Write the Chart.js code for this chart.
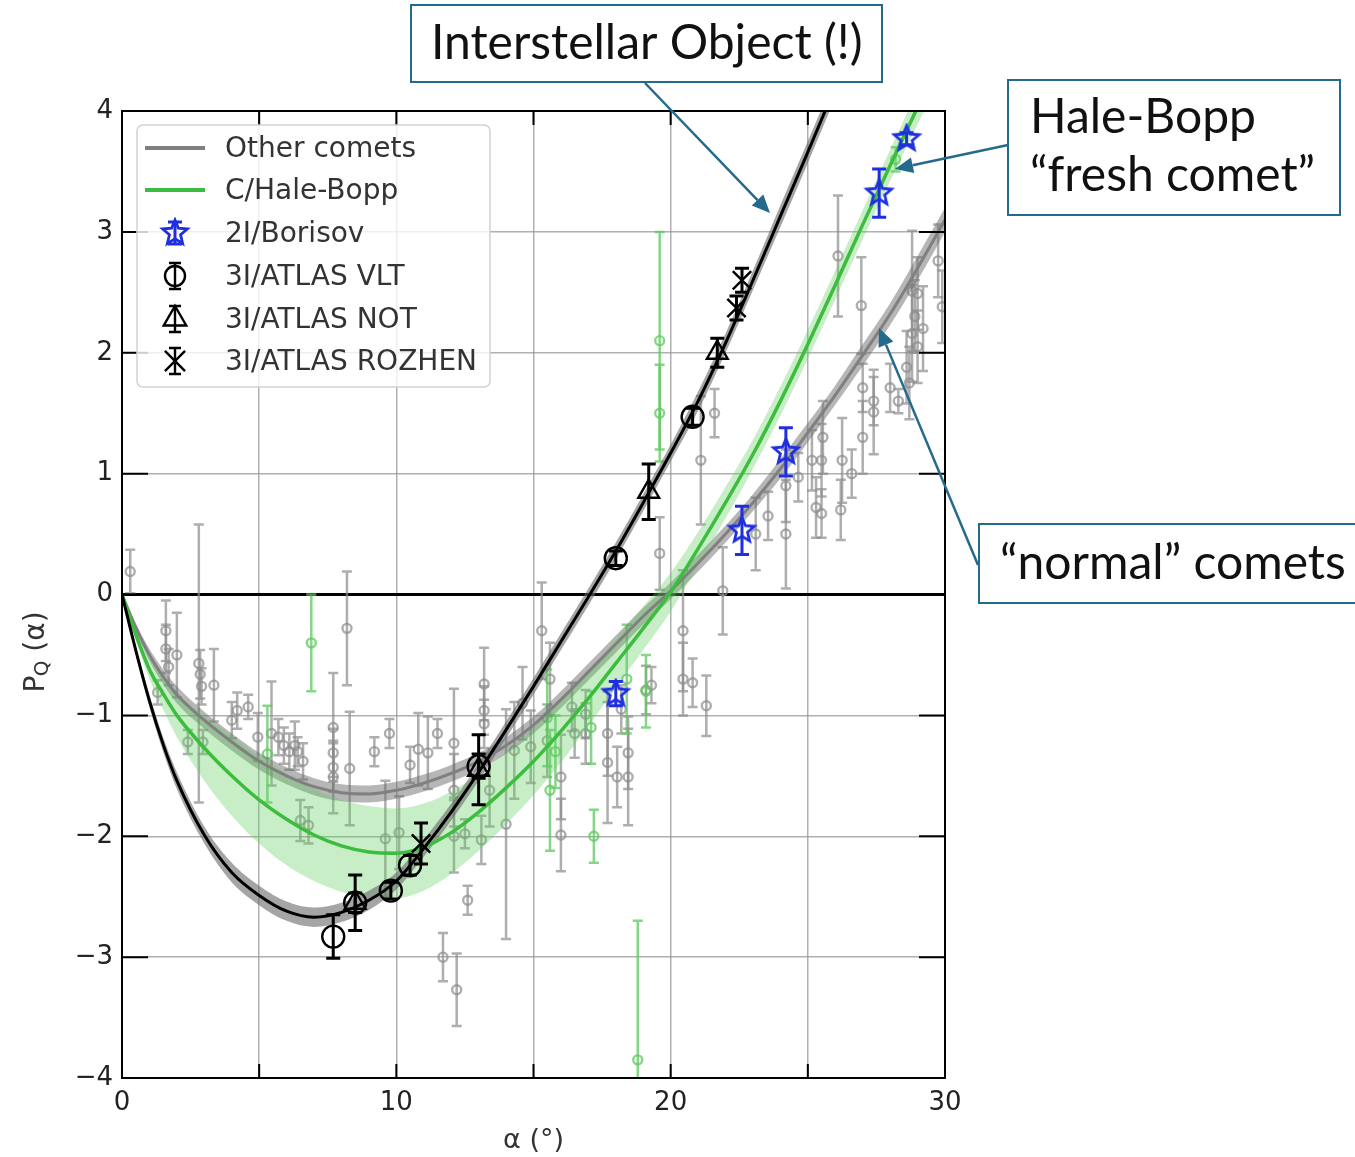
<!DOCTYPE html>
<html lang="en">
<head>
<meta charset="UTF-8" />
<title>Polarization phase curves</title>
<script src="https://cdn.jsdelivr.net/npm/chart.js@4.4.1/dist/chart.umd.min.js"></script>
<style>
	body { margin: 0; background: #fff; }
	#wrap { width: 1355px; height: 1157px; position: relative; }
</style>
</head>
<body>
<div id="wrap"><canvas id="myChart"></canvas></div>
<script>
// phase angle samples of the fitted curves
var fitAlpha = [0, 0.5, 1, 1.5, 2, 3, 4, 5, 6, 7, 8, 9, 10, 11, 12, 13, 14, 15, 16, 17, 18, 19, 20, 21, 22, 23, 24, 25, 26, 27, 28, 29, 30];
var otherFit = [0, -0.27, -0.5, -0.68, -0.83, -1.04, -1.22, -1.38, -1.5, -1.59, -1.64, -1.65, -1.62, -1.56, -1.48, -1.38, -1.25, -1.08, -0.87, -0.64, -0.41, -0.18, 0.03, 0.26, 0.5, 0.76, 1.04, 1.34, 1.65, 1.98, 2.32, 2.7, 3.1];
var otherBand = [0, 0.03, 0.05, 0.06, 0.07, 0.07, 0.07, 0.07, 0.07, 0.07, 0.07, 0.07, 0.07, 0.07, 0.07, 0.07, 0.07, 0.07, 0.07, 0.07, 0.07, 0.07, 0.07, 0.07, 0.07, 0.07, 0.08, 0.08, 0.08, 0.09, 0.09, 0.1, 0.1];
var hbFit = [0, -0.33, -0.62, -0.82, -1.0, -1.27, -1.5, -1.7, -1.86, -1.99, -2.08, -2.13, -2.14, -2.09, -1.97, -1.8, -1.6, -1.38, -1.13, -0.86, -0.57, -0.28, 0.02, 0.38, 0.76, 1.16, 1.6, 2.07, 2.56, 3.06, 3.55, 4.03, 4.5];
var hbBand = [0, 0.04, 0.08, 0.13, 0.18, 0.27, 0.33, 0.36, 0.38, 0.38, 0.38, 0.38, 0.37, 0.36, 0.34, 0.32, 0.3, 0.28, 0.26, 0.23, 0.2, 0.18, 0.16, 0.14, 0.13, 0.12, 0.12, 0.12, 0.12, 0.12, 0.13, 0.14, 0.15];
var atlasFit = [0, -0.46, -0.88, -1.24, -1.54, -1.99, -2.3, -2.49, -2.62, -2.67, -2.63, -2.53, -2.37, -2.1, -1.8, -1.47, -1.12, -0.76, -0.39, -0.02, 0.36, 0.76, 1.17, 1.6, 2.08, 2.6, 3.13, 3.66, 4.2];
var atlasBand = [0, 0.03, 0.05, 0.06, 0.07, 0.07, 0.08, 0.08, 0.08, 0.08, 0.08, 0.08, 0.07, 0.07, 0.07, 0.07, 0.07, 0.07, 0.07, 0.07, 0.07, 0.07, 0.07, 0.08, 0.08, 0.08, 0.09, 0.09, 0.09];

// measurements: [alpha, P, error]
var otherPts = [
	[0.3, 0.19, 0.18], [1.6, -0.3, 0.25], [1.6, -0.45, 0.2], [1.7, -0.6, 0.15], [2.0, -0.5, 0.35],
	[1.3, -0.81, 0.1], [2.8, -0.57, 1.15], [2.85, -0.66, 0.2], [2.9, -0.76, 0.15], [3.35, -0.75, 0.3],
	[2.4, -1.22, 0.1], [2.95, -1.22, 0.1], [4.0, -1.04, 0.15], [4.2, -0.96, 0.15], [4.6, -0.93, 0.1],
	[4.95, -1.18, 0.2], [5.45, -1.15, 0.43], [5.7, -1.18, 0.15], [5.9, -1.25, 0.15], [6.1, -1.3, 0.15],
	[6.3, -1.25, 0.2], [6.4, -1.3, 0.12], [6.6, -1.38, 0.15], [6.5, -1.87, 0.17], [6.8, -1.91, 0.15],
	[7.7, -1.1, 0.45], [7.7, -1.31, 0.2], [7.7, -1.43, 0.2], [7.7, -1.51, 0.3], [8.2, -0.28, 0.47],
	[8.3, -1.44, 0.47], [9.2, -1.3, 0.12], [9.75, -1.15, 0.12], [9.6, -2.02, 0.48], [10.1, -1.97, 0.3],
	[10.5, -1.41, 0.15], [10.8, -1.28, 0.3], [11.15, -1.31, 0.3], [11.5, -1.15, 0.12], [12.1, -1.23, 0.45],
	[12.1, -1.62, 0.3], [12.1, -2.0, 0.3], [12.5, -1.98, 0.12], [12.6, -2.53, 0.12], [11.7, -3.0, 0.2],
	[12.2, -3.27, 0.3], [13.2, -0.74, 0.3], [13.2, -0.96, 0.2], [13.2, -1.07, 0.2], [13.4, -1.62, 0.3],
	[13.1, -2.03, 0.2], [14.0, -1.9, 0.95], [14.3, -1.29, 0.4], [14.6, -0.9, 0.3], [14.9, -1.26, 0.3],
	[15.3, -0.3, 0.4], [15.5, -1.21, 0.3], [15.6, -0.7, 0.3], [16.0, -1.51, 0.35], [16.0, -1.99, 0.3],
	[16.4, -0.93, 0.2], [16.5, -1.15, 0.2], [16.9, -0.99, 0.2], [16.9, -1.15, 0.25], [17.7, -1.15, 0.35],
	[17.7, -1.39, 0.5], [18.05, -1.51, 0.25], [18.45, -1.31, 0.3], [18.45, -1.51, 0.4], [18.2, -0.95, 0.2],
	[19.1, -0.79, 0.2], [19.3, -0.75, 0.15], [19.6, 0.34, 0.3], [20.45, -0.3, 0.5], [20.45, -0.7, 0.3],
	[20.8, -0.73, 0.2], [21.3, -0.92, 0.25], [21.9, 0.03, 0.36], [21.1, 1.11, 0.53], [21.6, 1.5, 0.2],
	[23.1, 0.5, 0.3], [23.55, 0.65, 0.2], [24.2, 0.9, 0.3], [24.2, 0.5, 0.45], [24.65, 0.97, 0.2],
	[25.15, 1.11, 0.25], [25.55, 1.3, 0.3], [25.5, 1.11, 0.3], [25.3, 0.72, 0.25], [25.5, 0.67, 0.2],
	[26.25, 1.11, 0.35], [26.2, 0.7, 0.25], [26.6, 1.0, 0.2], [27.0, 1.3, 0.3], [27.0, 1.71, 0.2],
	[27.4, 1.51, 0.35], [27.4, 1.6, 0.2], [28.3, 1.6, 0.1], [28.0, 1.71, 0.2], [28.7, 1.75, 0.3],
	[26.1, 2.8, 0.5], [26.95, 2.39, 0.4], [28.8, 2.51, 0.5], [28.8, 2.16, 0.4], [28.9, 2.3, 0.3],
	[29.0, 2.05, 0.3], [29.0, 2.49, 0.3], [29.2, 2.2, 0.35], [29.75, 2.76, 0.3], [29.9, 2.38, 0.3],
	[28.6, 1.88, 0.3]
];
var hbPts = [
	[5.3, -1.32, 0.4], [6.9, -0.4, 0.4], [15.5, -1.02, 0.4], [15.6, -1.62, 0.5], [15.8, -1.3, 0.3],
	[17.1, -1.1, 0.3], [17.2, -2.0, 0.22], [18.4, -0.7, 0.45], [19.1, -0.8, 0.3], [18.8, -3.85, 1.15],
	[19.6, 2.1, 0.9], [19.6, 1.5, 0.4], [28.2, 3.6, 0.1]
];
var borisovPts = [[18.0, -0.82, 0.1], [22.6, 0.53, 0.2], [24.2, 1.18, 0.2], [27.6, 3.32, 0.2], [28.6, 3.77, 0.05]];
var vltPts = [[7.7, -2.83, 0.18], [8.5, -2.55, 0.08], [9.8, -2.45, 0.07], [10.5, -2.24, 0.08], [13.0, -1.42, 0.1], [18.0, 0.3, 0.06], [20.8, 1.47, 0.07]];
var notPts = [[8.5, -2.55, 0.23], [13.0, -1.45, 0.29], [19.2, 0.85, 0.23], [21.7, 2.0, 0.12]];
var rozhenPts = [[10.9, -2.06, 0.17], [22.4, 2.37, 0.1], [22.6, 2.6, 0.1]];

var xLabels = [0, 10, 20, 30];
var legendLabels = ['Other comets', 'C/Hale-Bopp', '2I/Borisov', '3I/ATLAS VLT', '3I/ATLAS NOT', '3I/ATLAS ROZHEN'];

var GRAY = '#808080', GREEN = '#3dbd3d', BLUE = '#1f2fe0', TEAL = '#236a8c';
var tickFont = { family: 'DejaVu Sans', size: 26 };

function pts(list) { return list.map(function (p) { return { x: p[0], y: p[1] }; }); }
function errs(list) { return list.map(function (p) { return p[2]; }); }
function curve(ys, band, sign) {
	return ys.map(function (y, i) { return { x: fitAlpha[i], y: band ? y + sign * band[i] : y }; });
}

function starImage(color, r) {
	var c = document.createElement('canvas');
	c.width = c.height = 2 * r + 6;
	var g = c.getContext('2d');
	g.strokeStyle = color;
	g.lineWidth = 2.8;
	g.beginPath();
	for (var k = 0; k < 10; k++) {
		var rr = k % 2 ? r * 0.45 : r;
		var a = -Math.PI / 2 + k * Math.PI / 5;
		g.lineTo(r + 3 + rr * Math.cos(a), r + 3 + rr * Math.sin(a));
	}
	g.closePath();
	g.stroke();
	return c;
}
var star = starImage(BLUE, 13);

function markerSet(label, list, style, color, radius, errWidth, cap) {
	return {
		label: label, data: pts(list), errors: errs(list),
		errColor: color, errWidth: errWidth, capSize: cap,
		pointStyle: style, pointRadius: radius, pointBorderWidth: 2.4,
		borderColor: color, backgroundColor: 'rgba(0,0,0,0)', showLine: false
	};
}
function lineSet(label, ys, color, width) {
	return {
		type: 'line', label: label, data: curve(ys), borderColor: color, borderWidth: width,
		pointRadius: 0, cubicInterpolationMode: 'monotone', fill: false
	};
}
function bandSet(ys, band, sign, color, fillTo) {
	return {
		type: 'line', label: '', data: curve(ys, band, sign), borderWidth: 0, borderColor: 'rgba(0,0,0,0)',
		pointRadius: 0, cubicInterpolationMode: 'monotone', fill: fillTo, backgroundColor: color
	};
}

// error bars drawn just before their own dataset, through the chart scales
var errorBars = {
	id: 'errorBars',
	beforeDatasetDraw: function (chart, args) {
		var ds = chart.data.datasets[args.index];
		if (!ds.errors) return;
		var ctx = chart.ctx, xs = chart.scales.x, ys = chart.scales.y, a = chart.chartArea;
		ctx.save();
		ctx.beginPath();
		ctx.rect(a.left, a.top, a.right - a.left, a.bottom - a.top);
		ctx.clip();
		ctx.strokeStyle = ds.errColor;
		ctx.lineWidth = ds.errWidth;
		ds.data.forEach(function (p, i) {
			var px = xs.getPixelForValue(p.x);
			var t = ys.getPixelForValue(p.y + ds.errors[i]);
			var b = ys.getPixelForValue(p.y - ds.errors[i]);
			ctx.beginPath();
			ctx.moveTo(px, t); ctx.lineTo(px, b);
			ctx.moveTo(px - ds.capSize, t); ctx.lineTo(px + ds.capSize, t);
			ctx.moveTo(px - ds.capSize, b); ctx.lineTo(px + ds.capSize, b);
			ctx.stroke();
		});
		ctx.restore();
	}
};

// zero line, frame, inward ticks
var frame = {
	id: 'frame',
	beforeDatasetsDraw: function (chart) {
		var ctx = chart.ctx, a = chart.chartArea, y0 = chart.scales.y.getPixelForValue(0);
		ctx.save();
		ctx.strokeStyle = '#000';
		ctx.lineWidth = 3;
		ctx.beginPath(); ctx.moveTo(a.left, y0); ctx.lineTo(a.right, y0); ctx.stroke();
		ctx.restore();
	},
	afterDatasetsDraw: function (chart) {
		var ctx = chart.ctx, a = chart.chartArea, xs = chart.scales.x, ys = chart.scales.y;
		ctx.save();
		ctx.strokeStyle = '#000';
		ctx.lineWidth = 2;
		ctx.strokeRect(a.left, a.top, a.right - a.left, a.bottom - a.top);
		ctx.beginPath();
		xs.ticks.forEach(function (t) {
			var px = xs.getPixelForValue(t.value);
			ctx.moveTo(px, a.bottom); ctx.lineTo(px, a.bottom - 14);
			ctx.moveTo(px, a.top); ctx.lineTo(px, a.top + 14);
		});
		ys.ticks.forEach(function (t) {
			var py = ys.getPixelForValue(t.value);
			ctx.moveTo(a.left, py); ctx.lineTo(a.left + 26, py);
			ctx.moveTo(a.right, py); ctx.lineTo(a.right - 26, py);
		});
		ctx.stroke();
		ctx.restore();
	}
};

function drawMarker(ctx, style, x, y, r) {
	ctx.beginPath();
	if (style === 'circle') {
		ctx.arc(x, y, r, 0, 2 * Math.PI);
	} else if (style === 'triangle') {
		ctx.moveTo(x, y - r);
		ctx.lineTo(x + r * 0.866, y + r * 0.5);
		ctx.lineTo(x - r * 0.866, y + r * 0.5);
		ctx.closePath();
	} else if (style === 'crossRot') {
		var d = r * 0.72;
		ctx.moveTo(x - d, y - d); ctx.lineTo(x + d, y + d);
		ctx.moveTo(x + d, y - d); ctx.lineTo(x - d, y + d);
	}
	ctx.stroke();
}
function drawBar(ctx, x, y, h, cap) {
	ctx.beginPath();
	ctx.moveTo(x, y - h); ctx.lineTo(x, y + h);
	ctx.moveTo(x - cap, y - h); ctx.lineTo(x + cap, y - h);
	ctx.moveTo(x - cap, y + h); ctx.lineTo(x + cap, y + h);
	ctx.stroke();
}
function arrow(ctx, x1, y1, x2, y2) {
	var ang = Math.atan2(y2 - y1, x2 - x1), L = 18, W = 8;
	var bx = x2 - L * Math.cos(ang), by = y2 - L * Math.sin(ang);
	ctx.beginPath(); ctx.moveTo(x1, y1); ctx.lineTo(bx, by); ctx.stroke();
	ctx.beginPath();
	ctx.moveTo(x2, y2);
	ctx.lineTo(bx + W * Math.sin(ang), by - W * Math.cos(ang));
	ctx.lineTo(bx - W * Math.sin(ang), by + W * Math.cos(ang));
	ctx.closePath(); ctx.fill();
}

// legend, axis titles and the call-out boxes
var overlay = {
	id: 'overlay',
	afterDraw: function (chart) {
		var ctx = chart.ctx, a = chart.chartArea;
		ctx.save();
		// legend
		var lx = 137, ly = 125, lw = 353, lh = 262;
		ctx.fillStyle = 'rgba(255,255,255,0.8)';
		ctx.strokeStyle = '#d2d2d2';
		ctx.lineWidth = 1.5;
		ctx.beginPath(); ctx.roundRect(lx, ly, lw, lh, 6); ctx.fill(); ctx.stroke();
		var rows = [148, 190, 233, 276, 319, 361];
		ctx.lineWidth = 4;
		ctx.strokeStyle = GRAY; ctx.beginPath(); ctx.moveTo(145, rows[0]); ctx.lineTo(205, rows[0]); ctx.stroke();
		ctx.strokeStyle = GREEN; ctx.beginPath(); ctx.moveTo(145, rows[1]); ctx.lineTo(205, rows[1]); ctx.stroke();
		ctx.strokeStyle = BLUE; ctx.lineWidth = 3; drawBar(ctx, 175, rows[2], 11, 7);
		ctx.drawImage(star, 175 - star.width / 2, rows[2] - star.height / 2);
		ctx.strokeStyle = '#000'; ctx.lineWidth = 2.4;
		drawMarker(ctx, 'circle', 175, rows[3], 10); drawBar(ctx, 175, rows[3], 13, 6);
		drawMarker(ctx, 'triangle', 175, rows[4], 13); drawBar(ctx, 175, rows[4], 13, 6);
		drawMarker(ctx, 'crossRot', 175, rows[5], 14); drawBar(ctx, 175, rows[5], 13, 6);
		ctx.fillStyle = '#333';
		ctx.font = '28px "DejaVu Sans"';
		ctx.textBaseline = 'middle';
		ctx.textAlign = 'left';
		legendLabels.forEach(function (t, i) { ctx.fillText(t, 225, rows[i] + 2); });

		// axis titles
		ctx.textAlign = 'center';
		ctx.font = '27px "DejaVu Sans"';
		ctx.fillText('\u03b1 (\u00b0)', (a.left + a.right) / 2, 1141);
		ctx.save();
		ctx.translate(37, 652);
		ctx.rotate(-Math.PI / 2);
		ctx.textAlign = 'left';
		var w1 = ctx.measureText('P').width;
		ctx.font = '20px "DejaVu Sans"';
		var w2 = ctx.measureText('Q').width;
		ctx.font = '28px "DejaVu Sans"';
		var w3 = ctx.measureText(' (\u03b1)').width;
		var sx = -(w1 + w2 + w3) / 2;
		ctx.fillText('P', sx, 0);
		ctx.font = '20px "DejaVu Sans"';
		ctx.fillText('Q', sx + w1, 6);
		ctx.font = '28px "DejaVu Sans"';
		ctx.fillText(' (\u03b1)', sx + w1 + w2, 0);
		ctx.restore();

		// call-outs
		ctx.strokeStyle = TEAL; ctx.fillStyle = TEAL; ctx.lineWidth = 2.5;
		arrow(ctx, 645, 83, 770, 213);
		arrow(ctx, 1008, 145, 895, 169);
		arrow(ctx, 978, 565, 879, 328);
		ctx.lineWidth = 2;
		ctx.fillStyle = '#fff';
		[[411, 5, 471, 77], [1008, 80, 332, 135], [979, 524, 380, 79]].forEach(function (r) {
			ctx.fillRect(r[0], r[1], r[2], r[3]);
			ctx.strokeRect(r[0], r[1], r[2], r[3]);
		});
		ctx.fillStyle = '#111';
		ctx.font = '48px Lato';
		ctx.textAlign = 'left';
		ctx.fillText('Interstellar Object (!)', 431, 44);
		ctx.fillText('Hale-Bopp', 1030, 118);
		ctx.fillText('\u201cfresh comet\u201d', 1030, 176);
		ctx.fillText('\u201cnormal\u201d comets', 1000, 564);
		ctx.restore();
	}
};

var gridColor = 'rgba(150,150,150,0.75)';
var ctx = document.getElementById('myChart').getContext('2d');
var chart = new Chart(ctx, {
	type: 'scatter',
	data: {
		datasets: [
			markerSet('3I/ATLAS VLT', vltPts, 'circle', '#000', 11, 3, 7),
			markerSet('3I/ATLAS NOT', notPts, 'triangle', '#000', 12, 3, 7),
			markerSet('3I/ATLAS ROZHEN', rozhenPts, 'crossRot', '#000', 13, 3, 7),
			markerSet('2I/Borisov', borisovPts, star, BLUE, 13, 3, 7),
			lineSet('3I/ATLAS fit', atlasFit, '#000', 3),
			lineSet('C/Hale-Bopp', hbFit, GREEN, 3.5),
			lineSet('Other comets', otherFit, GRAY, 3),
			bandSet(atlasFit, atlasBand, 1, 'rgba(105,105,105,0.6)', '+1'),
			bandSet(atlasFit, atlasBand, -1, 'rgba(0,0,0,0)', false),
			bandSet(hbFit, hbBand, 1, 'rgba(95,205,95,0.35)', '+1'),
			bandSet(hbFit, hbBand, -1, 'rgba(0,0,0,0)', false),
			bandSet(otherFit, otherBand, 1, 'rgba(110,110,110,0.5)', '+1'),
			bandSet(otherFit, otherBand, -1, 'rgba(0,0,0,0)', false),
			markerSet('C/Hale-Bopp data', hbPts, 'circle', 'rgba(95,200,95,0.75)', 4.5, 2.5, 5),
			markerSet('Other comets data', otherPts, 'circle', 'rgba(140,140,140,0.7)', 4.5, 2.5, 5)
		]
	},
	options: {
		responsive: true,
		maintainAspectRatio: false,
		animation: false,
		layout: { padding: { top: 111, right: 410, left: 0, bottom: 0 } },
		plugins: { legend: { display: false }, tooltip: { enabled: false } },
		scales: {
			x: {
				type: 'linear', min: 0, max: 30,
				afterFit: function (s) { s.height = 79; },
				ticks: {
					stepSize: 5, autoSkip: false, maxRotation: 0, padding: 10, color: '#222', font: tickFont,
					callback: function (v) { return xLabels.indexOf(v) >= 0 ? String(v) : ''; }
				},
				grid: { color: gridColor, lineWidth: 1.5, drawTicks: false },
				border: { display: false }
			},
			y: {
				min: -4, max: 4,
				afterFit: function (s) { s.width = 122; },
				ticks: {
					stepSize: 1, padding: 9, color: '#222', font: tickFont,
					callback: function (v) { return v < 0 ? '\u2212' + Math.abs(v) : String(v); }
				},
				grid: { color: gridColor, lineWidth: 1.5, drawTicks: false },
				border: { display: false }
			}
		}
	},
	plugins: [errorBars, frame, overlay]
});
</script>
</body>
</html>
